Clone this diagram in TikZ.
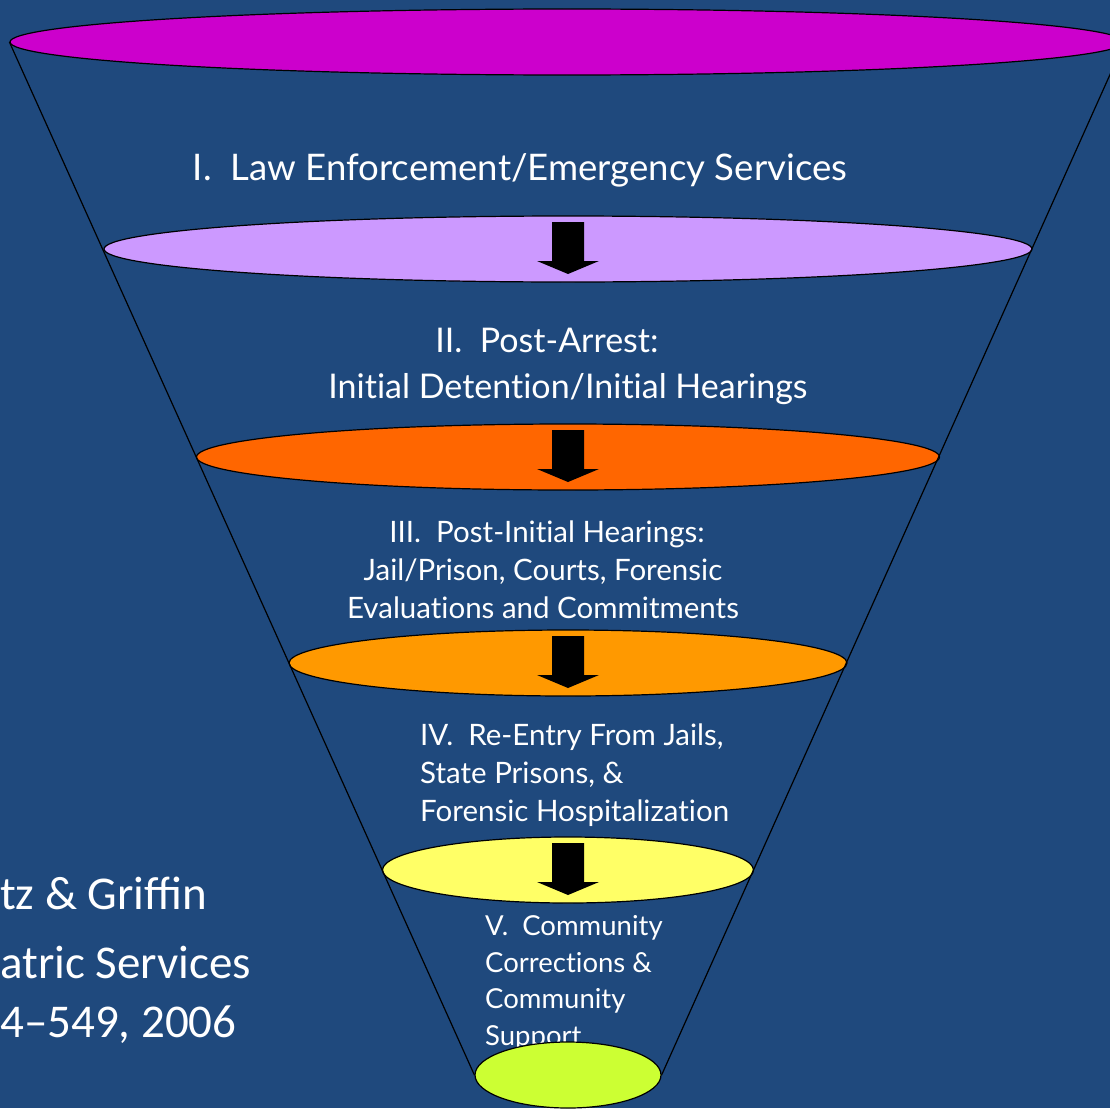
\documentclass[tikz,border=0pt]{standalone}
\usepackage{fontspec}
\setmainfont{Lato}[Ligatures=NoCommon]
\newfontfamily\refsfont{Carlito}
\definecolor{slideblue}{HTML}{1F497D}
\definecolor{rimmagenta}{HTML}{CC00CC}
\definecolor{rimlilac}{HTML}{CC99FF}
\definecolor{rimorange}{HTML}{FF6600}
\definecolor{rimamber}{HTML}{FF9900}
\definecolor{rimyellow}{HTML}{FFFF66}
\definecolor{rimlime}{HTML}{CCFF33}
\usetikzlibrary{shapes.geometric}

\begin{document}
\begin{tikzpicture}[x=1pt,y=-1pt,
  rim/.style={ellipse,draw=black,line width=1.2pt,inner sep=0pt,minimum height=66pt},
  stage/.style={text=white,inner sep=0pt},
  ref/.style={text=white,inner sep=0pt,anchor=base west,font=\refsfont\fontsize{47}{50}\selectfont},
  cone/.style={black,line width=1.2pt},
  stagearrow/.pic={\fill[black] (-16,-27) -- (16,-27) -- (16,12) -- (31,12) -- (0,25)
    -- (-31,12) -- (-16,12) -- cycle;}]
  \fill[slideblue] (0,0) rectangle (1110,1108);
  \useasboundingbox (0,0) rectangle (1110,1108);
  % funnel rims, top to bottom
  \node[rim,fill=rimmagenta,minimum width=1114pt] (rim1) at (567,42) {};
  \node[rim,fill=rimlilac,minimum width=928pt] (rim2) at (568,249) {};
  \node[rim,fill=rimorange,minimum width=743pt] (rim3) at (568,457) {};
  \node[rim,fill=rimamber,minimum width=558pt] (rim4) at (568,663) {};
  \node[rim,fill=rimyellow,minimum width=371pt] (rim5) at (568,870) {};
  % stage labels
  \node[stage,font=\fontsize{36.6}{46}\selectfont] (law) at (520,170)
    {I.\ \ Law Enforcement/Emergency Services};
  \node[stage,align=center,font=\fontsize{34}{46}\selectfont] (post) at (568,366)
    {II.\ \ Post-Arrest:\hspace*{42pt}\\Initial Detention/Initial Hearings};
  \node[stage,align=center,font=\fontsize{29.5}{38}\selectfont] (hear) at (543,570)
    {\hspace*{8pt}III.\ \ Post-Initial Hearings:\\Jail/Prison, Courts, Forensic\hspace*{30pt}\\Evaluations and Commitments};
  \node[stage,align=left,anchor=west,font=\fontsize{29.5}{38}\selectfont] (reentry) at (420,775)
    {IV.\ \ Re-Entry From Jails,\\State Prisons, \&\\Forensic Hospitalization};
  \node[stage,align=left,anchor=west,font=\fontsize{27.5}{36.5}\selectfont] (commun) at (485,983)
    {V.\ \ Community\\Corrections \&\\Community\\Support};
  \node[rim,fill=rimlime,minimum width=186pt] (rim6) at (568,1075) {};
  % funnel sides
  \draw[cone] (rim1.west) -- (rim6.west);
  \draw[cone] (rim1.east) -- (rim6.east);
  % arrows between stages
  \pic at (rim2) {stagearrow};
  \pic at (rim3) {stagearrow};
  \pic at (rim4) {stagearrow};
  \pic at (rim5) {stagearrow};
  % citation, cut at the left edge
  \node[ref] (auth) at (0,909) {tz \& Griffin};
  \node[ref] (jrnl) at (0,978) {atric Services};
  \node[ref] (page) at (0,1037) {4–549, 2006};
\end{tikzpicture}
\end{document}
